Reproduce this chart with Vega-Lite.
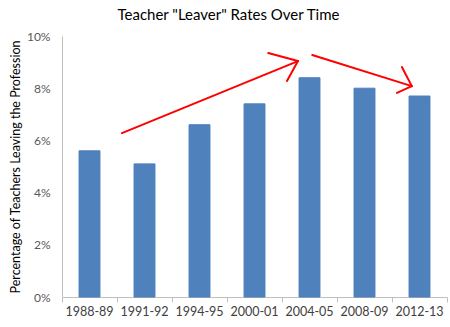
{
  "$schema": "https://vega.github.io/schema/vega-lite/v6.json",
  "width": 385,
  "height": 261,
  "autosize": {"type": "none"},
  "padding": {"left": 62, "top": 36, "right": 3, "bottom": 30},
  "background": "white",
  "config": {"font": "Lato", "view": {"stroke": null}},
  "title": {
    "text": "Teacher \"Leaver\" Rates Over Time",
    "anchor": "middle",
    "frame": "bounds",
    "fontSize": 15,
    "fontWeight": "normal",
    "color": "#000000",
    "offset": 7
  },
  "datasets": {
    "bars": [
      {"period": "1988-89", "rate": 0.056},
      {"period": "1991-92", "rate": 0.051},
      {"period": "1994-95", "rate": 0.066},
      {"period": "2000-01", "rate": 0.074},
      {"period": "2004-05", "rate": 0.084},
      {"period": "2008-09", "rate": 0.080},
      {"period": "2012-13", "rate": 0.077}
    ],
    "arrows": [
      {"x": 1.09, "y": 0.0628, "x2": 4.29, "y2": 0.0904},
      {"x": 3.75, "y": 0.0935, "x2": 4.29, "y2": 0.0904},
      {"x": 4.09, "y": 0.0828, "x2": 4.29, "y2": 0.0904},
      {"x": 4.55, "y": 0.0927, "x2": 6.36, "y2": 0.0808},
      {"x": 6.18, "y": 0.0881, "x2": 6.36, "y2": 0.0808},
      {"x": 6.09, "y": 0.0782, "x2": 6.36, "y2": 0.0808}
    ]
  },
  "layer": [
    {
      "data": {"name": "bars"},
      "mark": {"type": "bar", "color": "#4F81BD", "stroke": "#4A7EBB", "strokeWidth": 1},
      "encoding": {
        "x": {
          "field": "period",
          "type": "nominal",
          "sort": null,
          "scale": {"paddingInner": 0.62, "paddingOuter": 0.31},
          "axis": {
            "title": null,
            "labelAngle": 0,
            "labelFontSize": 12.5,
            "labelColor": "#404040",
            "labelPadding": 8,
            "ticks": false,
            "domainColor": "#BFBFBF",
            "grid": false
          }
        },
        "y": {
          "field": "rate",
          "type": "quantitative",
          "scale": {"domain": [0, 0.1], "nice": false},
          "axis": {
            "title": "Percentage of Teachers Leaving the Profession",
            "titleFontSize": 12.5,
            "titleFontWeight": "normal",
            "titleColor": "#000000",
            "titlePadding": 4,
            "format": ".0%",
            "values": [0, 0.02, 0.04, 0.06, 0.08, 0.1],
            "labelFontSize": 12,
            "labelColor": "#595959",
            "labelPadding": 12,
            "ticks": false,
            "grid": false,
            "domainColor": "#BFBFBF"
          }
        }
      }
    },
    {
      "data": {"name": "arrows"},
      "mark": {"type": "rule", "color": "#FF0000", "strokeWidth": 2, "strokeCap": "round"},
      "encoding": {
        "x": {
          "field": "x",
          "type": "quantitative",
          "scale": {"domain": [0, 7], "nice": false, "zero": false},
          "axis": {
            "title": null,
            "orient": "bottom",
            "values": [0, 1, 2, 3, 4, 5, 6, 7],
            "labels": false,
            "domain": false,
            "grid": false,
            "tickSize": 5,
            "tickColor": "#BFBFBF"
          }
        },
        "x2": {"field": "x2"},
        "y": {"field": "y", "type": "quantitative"},
        "y2": {"field": "y2"}
      }
    }
  ],
  "resolve": {"scale": {"x": "independent"}, "axis": {"x": "independent"}}
}
